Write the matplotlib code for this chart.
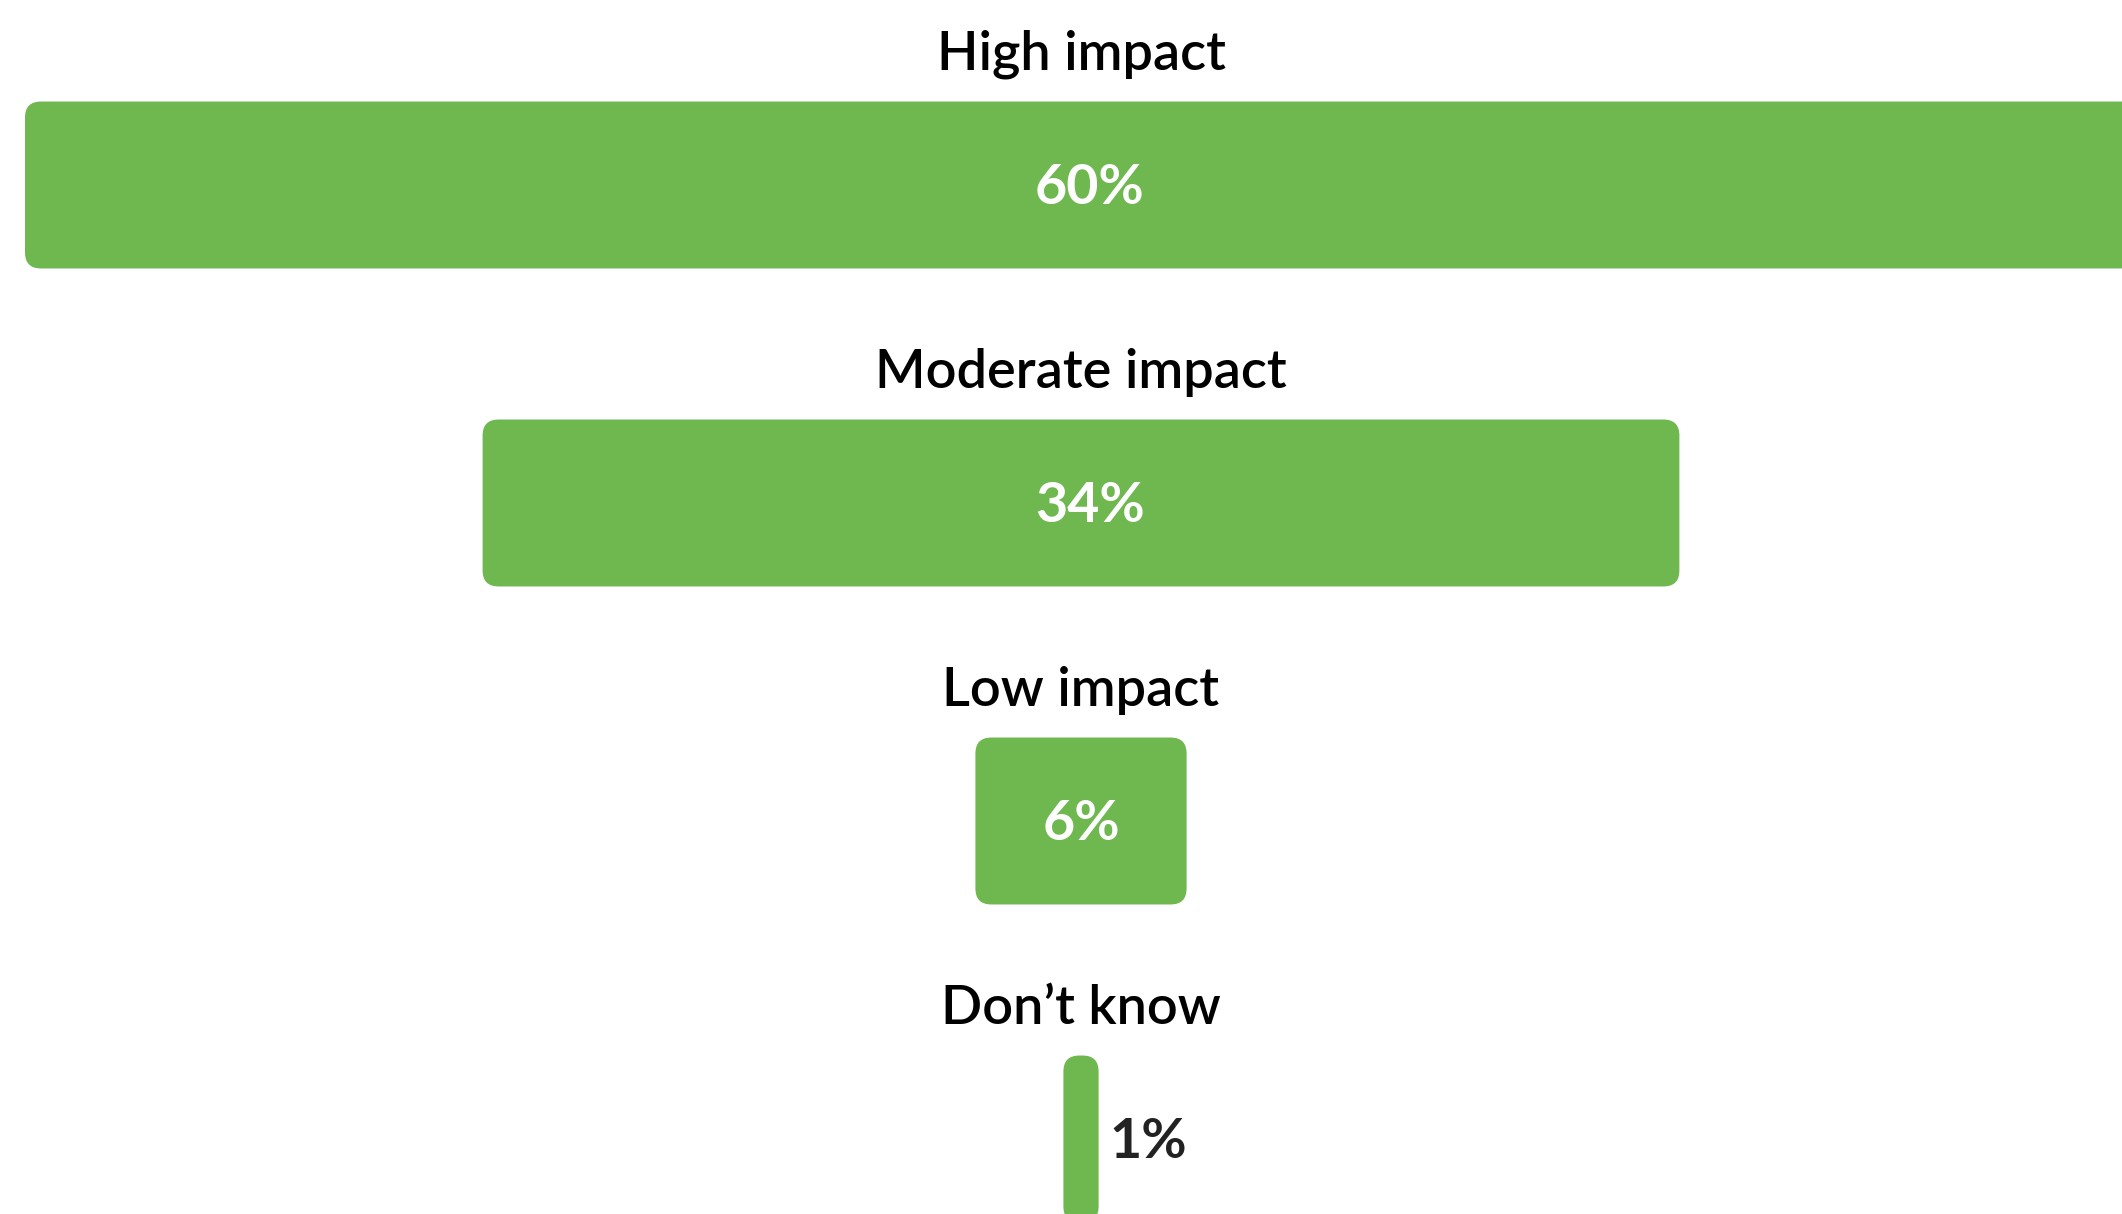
import matplotlib as mpl
mpl.use('Agg')
import matplotlib.pyplot as plt
from matplotlib.patches import FancyBboxPatch

categories = ["High impact", "Moderate impact", "Low impact", "Don\u2019t know"]
values = [60, 34, 6, 1]
value_labels = ["60%", "34%", "6%", "1%"]

green = '#6fb74f'
W, H = 2122, 1214
dpi = 100

plt.rcParams['font.family'] = ['Lato', 'DejaVu Sans']

fig = plt.figure(figsize=(W / dpi, H / dpi), dpi=dpi)
ax = fig.add_axes([0, 0, 1, 1])

# pixels per unit on each axis
px_x = 35.2
px_y = 318.0
center_px = 1081
top_px = 185
ax.set_xlim(-center_px / px_x, (W - center_px) / px_x)
ax.set_ylim((H - top_px) / px_y, -top_px / px_y)
ax.axis('off')

bar_h = 0.525
rad = 16 / px_x
bars = ax.barh(range(len(values)), values, left=[-v / 2 for v in values],
               height=bar_h, color='none')

for i, (b, v) in enumerate(zip(bars, values)):
    x0, y0 = b.get_x(), b.get_y()
    w, h = b.get_width(), b.get_height()
    patch = FancyBboxPatch((x0, y0), w, h,
                           boxstyle="round,pad=0,rounding_size=%f" % rad,
                           mutation_aspect=px_x / px_y,
                           facecolor=green, edgecolor='none')
    ax.add_patch(patch)
    ax.text(0, i - 0.41, categories[i], ha='center', va='center',
            fontsize=39, fontweight='semibold', color='black')
    if v >= 5:
        dx = 0.25 if v >= 10 else 0
        ax.text(dx, i + 0.01, value_labels[i], ha='center', va='center',
                fontsize=40, fontweight='bold', color='white')
    else:
        ax.text(v / 2 + 11 / px_x, i + 0.01, value_labels[i], ha='left', va='center',
                fontsize=40, fontweight='bold', color='#222222')

fig.savefig('out.png', dpi=dpi)
